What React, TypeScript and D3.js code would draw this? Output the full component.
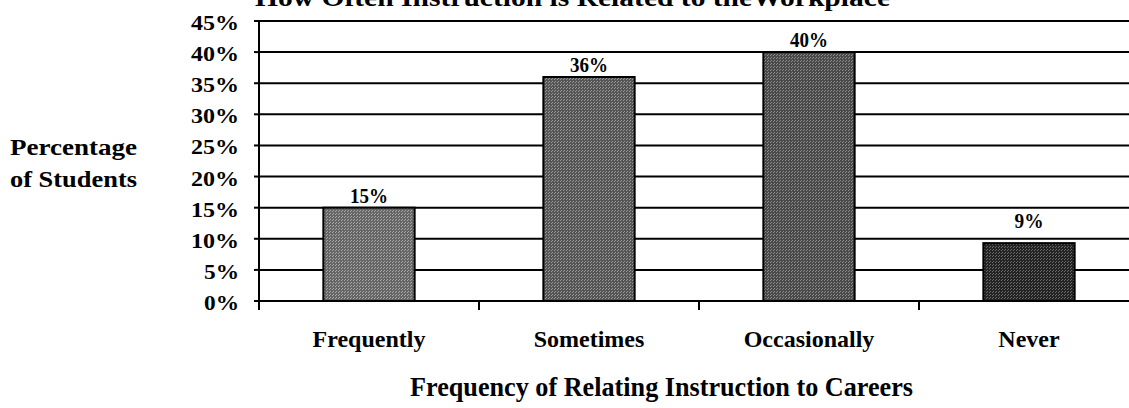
import React from "react";
import * as d3 from "d3";

const categories = ["Frequently", "Sometimes", "Occasionally", "Never"];
const values = [15, 36, 40, 9.3];
const valueLabels = ["15%", "36%", "40%", "9%"];
const yTicks = [0, 5, 10, 15, 20, 25, 30, 35, 40, 45];
const barColors = ["#666666", "#555555", "#4a4a4a", "#242424"];
const dotColors = ["#a8a8a8", "#999999", "#8c8c8c", "#6a6a6a"];

const W = 1129;
const H = 408;
const FONT = "'Liberation Serif', 'Times New Roman', serif";

export default function App() {
  const x0 = 259;
  const step = 220;
  const x = d3
    .scaleBand<string>()
    .domain(categories)
    .range([x0, x0 + step * categories.length])
    .paddingInner(0.585)
    .paddingOuter(0.2925);
  const y = d3.scaleLinear().domain([0, 45]).range([301, 21]);
  const band = d3
    .scaleBand<string>()
    .domain(categories)
    .range([x0, x0 + step * categories.length]);

  const tickWidth = (s: string) => (s.length === 2 ? 35 : 48);
  const valWidth = (s: string) => (s.length === 2 ? 29 : 38);

  return (
    <svg
      width={W}
      height={H}
      style={{ position: "absolute", left: 0, top: 0, background: "#fff" }}
      fontFamily={FONT}
    >
      <defs>
        {categories.map((c, i) => (
          <pattern
            key={c}
            id={`stip${i}`}
            width={3}
            height={3}
            patternUnits="userSpaceOnUse"
          >
            <rect width={3} height={3} fill={barColors[i]} />
            <rect x={0} y={0} width={1} height={1} fill={dotColors[i]} />
            <rect x={2} y={1} width={1} height={1} fill={dotColors[i]} />
          </pattern>
        ))}
      </defs>
      <rect x={0} y={0} width={W} height={H} fill="#fff" />
      <text
        x={255}
        y={6}
        fontSize={26}
        fontWeight="bold"
        textLength={635}
        lengthAdjust="spacingAndGlyphs"
      >
        How Often Instruction is Related to theWorkplace
      </text>
      {yTicks.map((t) => (
        <g key={t}>
          <line x1={x0} x2={W} y1={y(t)} y2={y(t)} stroke="#000" strokeWidth={2} />
          <line x1={x0 - 5} x2={x0} y1={y(t)} y2={y(t)} stroke="#000" strokeWidth={2} />
          <text
            x={239 - tickWidth(`${t}%`)}
            y={y(t) + 9}
            fontSize={21}
            fontWeight="bold"
            textLength={tickWidth(`${t}%`)}
            lengthAdjust="spacingAndGlyphs"
          >
            {t}%
          </text>
        </g>
      ))}
      {categories.map((c, i) => {
        const cx = (x(c) as number) + x.bandwidth() / 2;
        const lw = valWidth(valueLabels[i]);
        return (
          <g key={c}>
            <rect
              x={x(c)}
              y={y(values[i])}
              width={x.bandwidth()}
              height={y(0) - y(values[i])}
              fill={`url(#stip${i})`}
              stroke="#000"
              strokeWidth={2}
            />
            <text
              x={cx - lw / 2}
              y={y(values[i]) - (i === 3 ? 15 : 5)}
              fontSize={20}
              fontWeight="bold"
              textLength={lw}
              lengthAdjust="spacingAndGlyphs"
            >
              {valueLabels[i]}
            </text>
            <text
              x={(band(c) as number) + band.bandwidth() / 2}
              y={347}
              textAnchor="middle"
              fontSize={24}
              fontWeight="bold"
            >
              {c}
            </text>
          </g>
        );
      })}
      <line x1={x0} x2={x0} y1={y(45) - 1} y2={y(0) + 9} stroke="#000" strokeWidth={2} />
      {categories.slice(1).map((c) => (
        <line
          key={c}
          x1={band(c)}
          x2={band(c)}
          y1={y(0)}
          y2={y(0) + 9}
          stroke="#000"
          strokeWidth={2}
        />
      ))}
      <text
        x={10}
        y={155}
        fontSize={23}
        fontWeight="bold"
        textLength={127}
        lengthAdjust="spacingAndGlyphs"
      >
        Percentage
      </text>
      <text
        x={10}
        y={187}
        fontSize={23}
        fontWeight="bold"
        textLength={127}
        lengthAdjust="spacingAndGlyphs"
      >
        of Students
      </text>
      <text
        x={410}
        y={396}
        fontSize={27}
        fontWeight="bold"
        textLength={503}
        lengthAdjust="spacingAndGlyphs"
      >
        Frequency of Relating Instruction to Careers
      </text>
    </svg>
  );
}
